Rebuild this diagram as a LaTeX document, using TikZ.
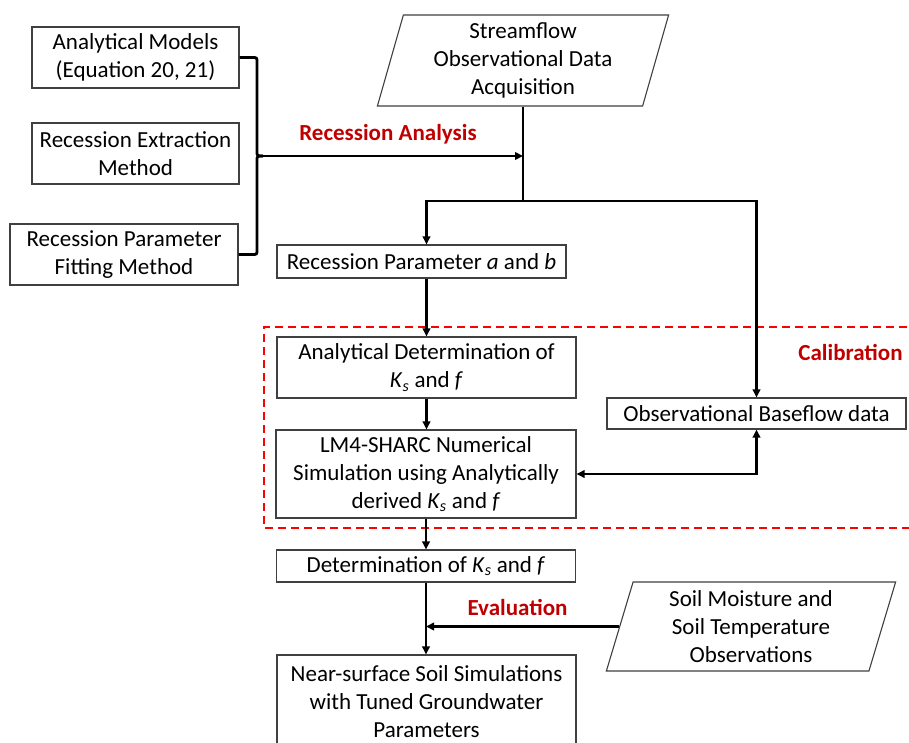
\documentclass[tikz,border=0pt]{standalone}
\usepackage{fontspec}
\setmainfont{Carlito}
\usetikzlibrary{arrows.meta,shapes.geometric}
\definecolor{lab}{HTML}{C00000}
\definecolor{edge}{HTML}{404040}
\newcommand{\Ks}{\textit{K}\textsubscript{\textit{s}}}
\begin{document}
\begin{tikzpicture}[x=1pt,y=-1pt,
  every node/.style={font=\fontsize{23}{28}\selectfont},
  box/.style={draw=edge,line width=1.1pt,fill=white,align=center,inner sep=2pt},
  para/.style={draw=edge,line width=1.1pt,fill=white,align=center,trapezium,
    trapezium left angle=76,trapezium right angle=104,trapezium stretches=true,inner sep=2pt},
  conn/.style={line width=2.8pt,black},
  arr/.style={conn,-{Triangle[length=8pt,width=7.5pt]}},
  arrb/.style={conn,{Triangle[length=8pt,width=7.5pt]}-{Triangle[length=8pt,width=7.5pt]}},
  lbl/.style={text=lab,font=\fontsize{23}{28}\selectfont\bfseries}]
\useasboundingbox (0,0) rectangle (909,743);

% calibration frame
\draw[red,line width=1.5pt,dash pattern=on 8pt off 5pt] (920,327) -- (264,327) -- (264,528) -- (920,528);

% left boxes
\node[box,minimum width=207,minimum height=61] (A) at (135.5,57.5) {Analytical Models\\(Equation 20, 21)};
\node[box,minimum width=207,minimum height=61] (B) at (135.5,153.5) {Recession Extraction\\Method};
\node[box,minimum width=228,minimum height=61] (C) at (124,254.5) {Recession Parameter\\Fitting Method};

% data sources
\node[para,minimum width=292,minimum height=91] (S) at (523,60.5) {Streamflow\\Observational Data\\Acquisition};
\node[para,minimum width=290,minimum height=89] (W) at (751,626.5) {Soil Moisture and\\Soil Temperature\\Observations};

% main column
\node[box,minimum width=289,minimum height=33] (RP) at (421.5,261.5) {Recession Parameter \textit{a} and \textit{b}};
\node[box,minimum width=299,minimum height=61] (AD) at (426.5,367.5) {Analytical Determination of\\\Ks{} and \textit{f}};
\node[box,minimum width=300,minimum height=88] (LM) at (426,474) {LM4-SHARC Numerical\\Simulation using Analytically\\derived \Ks{} and \textit{f}};
\node[box,minimum width=299,minimum height=32] (DT) at (426,566) {Determination of \Ks{} and \textit{f}};
\node[box,minimum width=299,minimum height=94] (NS) at (426.5,702) {Near-surface Soil Simulations\\with Tuned Groundwater\\Parameters};
\node[box,minimum width=299,minimum height=31] (OB) at (756.5,413.5) {Observational Baseflow data};

% labels
\node[lbl] (l1) at (388,134) {Recession Analysis};
\node[lbl] (l2) at (850.5,352) {Calibration};
\node[lbl] (l3) at (517.5,607) {Evaluation};

% bracket
\coordinate (tip) at (263,156);
\draw[conn] (A.east) -- (252,57.5) .. controls (257,57.5) .. (257,62.5) -- (257,151) .. controls (257,156) .. (tip);
\draw[conn] (tip) .. controls (257,156) .. (257,161) -- (257,249.5) .. controls (257,254.5) .. (252,254.5) -- (C.east);
\coordinate (j1) at (S.south |- tip);
\draw[arr] (tip) -- (j1);

% streamflow split
\draw[conn] (S.south) -- (S.south |- 0,201) coordinate (j2);
\draw[arr] (j2) -| (AD.north |- RP.north);
\draw[arr] (j2) -| (OB.north);

% main flow
\draw[arr] (RP.south -| AD.north) -- (AD.north);
\draw[arr] (AD.south) -- (AD.south |- LM.north);
\draw[arr] (LM.south) -- (LM.south |- DT.north);
\draw[arr] (DT.south) -- (DT.south |- NS.north);
\draw[arrb] (OB.south) |- (LM.east);
\draw[arr] (W.west) -- (W.west -| DT.south);
\end{tikzpicture}
\end{document}
